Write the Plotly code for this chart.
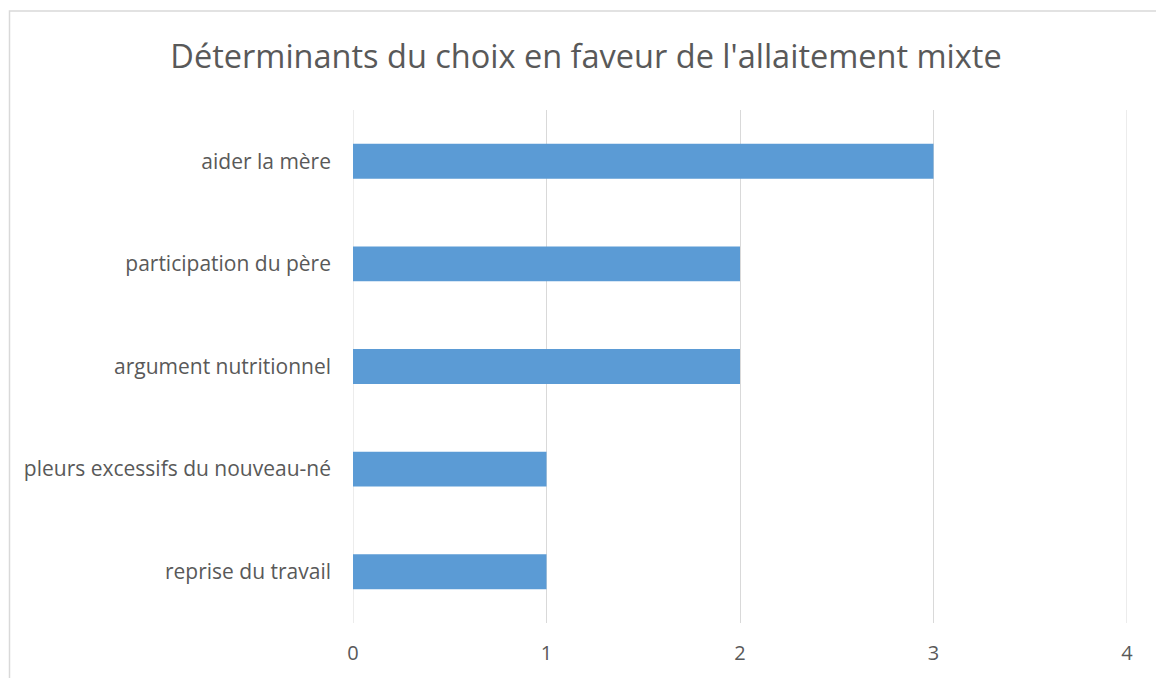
import plotly.graph_objects as go

categories = ["aider la mère", "participation du père", "argument nutritionnel",
              "pleurs excessifs du nouveau-né", "reprise du travail"]
values = [3, 2, 2, 1, 1]
x_ticks = [0, 1, 2, 3, 4]
title_text = "Déterminants du choix en faveur de l'allaitement mixte"

W, H = 1156, 678
ml, mr, mt, mb = 353, 29, 110, 55
pw, ph = W - ml - mr, H - mt - mb

def px_to_paper_x(px):
    return (px - ml) / pw

def px_to_paper_y(py):
    return (H - mb - py) / ph

fig = go.Figure(go.Bar(
    x=values, y=categories, orientation="h",
    marker=dict(color="#5B9BD5", line=dict(width=0)),
    hoverinfo="x+y",
))

shapes = [dict(type="rect", xref="paper", yref="paper",
               x0=px_to_paper_x(9.5), x1=px_to_paper_x(1170),
               y0=px_to_paper_y(690), y1=px_to_paper_y(11),
               line=dict(color="#D9D9D9", width=1.5), fillcolor="rgba(0,0,0,0)",
               layer="below")]
# edge gridlines (plotly clips gridlines that sit on the plot edges)
for t in (x_ticks[0], x_ticks[-1]):
    shapes.append(dict(type="line", xref="x", yref="paper", x0=t, x1=t, y0=0, y1=1,
                       line=dict(color="#D9D9D9", width=1), layer="below"))

fig.update_layout(
    width=W, height=H,
    margin=dict(l=ml, r=mr, t=mt, b=mb),
    paper_bgcolor="white", plot_bgcolor="white",
    font=dict(family="Open Sans, sans-serif", color="#595959", size=21),
    title=dict(text=title_text, x=px_to_paper_x(586), xref="paper", xanchor="center",
               y=1 - 57 / H, yanchor="middle",
               font=dict(size=32.5, color="#595959")),
    bargap=0.66,
    showlegend=False,
    shapes=shapes,
)
fig.update_xaxes(range=[x_ticks[0], x_ticks[-1]], tickvals=x_ticks, showgrid=True,
                 gridcolor="#D9D9D9", gridwidth=1, zeroline=False, showline=False,
                 ticks="", tickfont=dict(size=20, color="#595959"), ticklabelstandoff=16)
fig.update_yaxes(autorange="reversed", showgrid=False, zeroline=False, showline=False,
                 ticks="", tickfont=dict(size=21, color="#595959"), ticklabelstandoff=21)

fig.write_html("out.html", config={"displayModeBar": False},
               post_script="document.body.style.margin='0px';")
